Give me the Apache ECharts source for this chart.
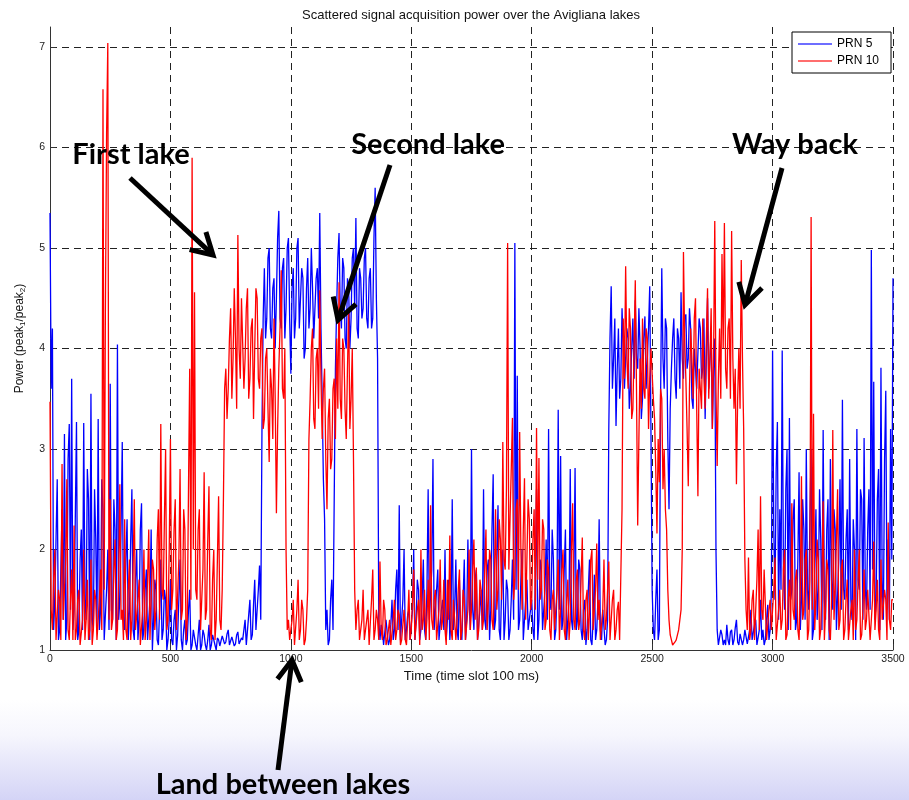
<!DOCTYPE html>
<html><head><meta charset="utf-8">
<script src="https://cdn.jsdelivr.net/npm/echarts@6/dist/echarts.min.js"></script>
<style>html,body{margin:0;padding:0;background:#fff}#c{width:909px;height:800px}</style>
</head><body><div id="c"></div>
<script>
// Time slots are sampled every SLOT_STEP slots (100 ms per slot)
const SLOT_STEP = 5;
const titleText = 'Scattered signal acquisition power over the Avigliana lakes';
const xAxisName = 'Time (time slot 100 ms)';
const seriesNames = ['PRN 5', 'PRN 10'];
const xTickStep = 500;
const yTickStep = 1;

// PRN 5 (blue), t = 0, 5, 10, ... 3500
const prn5 = [
 5.35,3.6,4.2,1.2,1.5,2.1,2.7,1.1,1.2,1.8,2.4,1.3,3.15,1.1,1.3,2.9,3.25,1.4,3.7,1.2,
 1.4,2.3,3.27,1.1,1.2,1.9,2.2,1.2,3.26,1.5,1.3,2.8,2.5,1.1,3.55,1.3,1.2,2.6,2.1,1.2,
 3.3,1.2,1.4,2.7,2.4,1.1,1.1,1.6,2.0,1.2,3.65,1.4,1.3,2.5,2.2,1.1,4.04,1.3,1.5,2.2,
 3.07,1.3,1.2,1.9,2.3,1.1,1.4,2.1,2.6,1.2,1.1,1.7,2.0,1.1,1.3,2.2,2.46,1.1,1.2,1.6,
 1.8,1.1,1.1,1.5,2.2,1.0,1.3,1.7,1.6,1.1,1.05,1.4,1.9,1.1,1.2,1.6,1.5,1.0,1.1,1.3,
 1.7,1.1,1.05,1.3,1.4,1.0,1.15,1.5,1.9,1.1,1.0,1.2,1.3,1.05,1.1,1.4,1.6,1.0,1.05,1.2,
 1.2,1.05,1.0,1.15,1.3,1.0,1.05,1.2,1.15,1.05,1.0,1.1,1.25,1.0,1.05,1.15,1.1,1.05,1.0,1.12,
 1.1,1.04,1.05,1.14,1.15,1.06,1.08,1.16,1.2,1.05,1.05,1.13,1.12,1.04,1.06,1.15,1.18,1.06,1.05,1.12,
 1.1,1.2,1.3,1.05,1.05,1.35,1.5,1.1,1.15,1.45,1.7,1.2,1.2,1.6,1.84,1.3,3.17,4.3,4.8,4.1,
 4.3,4.9,5.0,4.2,4.1,4.6,4.7,4.0,4.5,5.1,5.37,4.3,4.2,4.8,4.9,4.1,4.4,5.0,5.1,4.3,
 3.75,4.6,4.8,4.1,4.3,5.0,5.1,4.2,4.2,4.8,4.7,3.9,4.0,4.6,4.9,4.2,4.4,5.0,4.6,4.1,
 4.1,4.7,4.8,4.3,5.35,4.2,3.5,2.7,2.3,1.2,1.4,1.05,1.1,1.5,1.7,1.2,2.5,3.8,4.4,4.9,
 5.15,4.4,4.2,4.9,4.8,4.1,4.0,4.7,4.6,4.0,4.3,4.9,5.0,4.4,5.3,4.2,4.1,4.8,4.7,4.3,
 4.4,4.9,5.0,4.3,4.2,4.7,4.8,4.2,4.3,5.1,5.6,4.5,3.9,1.3,1.1,1.25,1.2,1.05,1.05,1.3,
 1.3,1.05,1.1,1.25,1.5,1.1,1.2,1.6,1.8,1.2,2.44,1.1,1.1,1.5,2.0,1.1,1.2,1.35,1.4,1.1,
 1.1,1.4,2.0,1.1,1.3,1.7,1.6,1.1,1.2,1.5,1.9,1.2,1.1,1.6,2.6,1.3,1.3,1.8,2.9,1.2,
 1.2,1.6,1.8,1.1,1.1,1.4,1.5,1.2,2.0,1.1,1.3,1.7,1.1,1.3,2.5,1.2,1.4,1.9,1.2,1.1,
 1.7,1.2,1.1,1.5,1.9,1.1,1.3,2.1,1.5,1.2,3.0,1.4,1.2,1.7,1.8,1.1,1.1,1.4,1.6,1.2,
 2.6,1.3,1.2,1.8,1.9,1.1,1.4,2.2,2.75,1.2,1.3,1.9,2.44,1.2,1.1,1.6,2.0,1.1,1.3,1.7,
 1.6,1.1,1.2,1.5,1.9,1.3,5.05,1.6,3.73,1.2,1.3,1.7,2.0,1.1,1.1,1.5,1.7,1.2,1.2,1.4,
 1.5,1.2,1.1,1.7,2.6,1.1,1.3,1.9,1.8,1.2,1.2,1.6,2.1,1.3,3.2,1.5,1.4,2.2,1.9,1.1,
 1.2,1.6,3.39,1.4,2.93,1.2,1.3,1.8,2.2,1.1,1.1,1.5,2.8,1.3,1.2,1.7,2.81,1.2,1.3,1.9,
 1.8,1.2,1.1,1.4,1.5,1.05,1.2,1.6,1.9,1.1,1.05,1.3,1.75,1.1,1.2,1.5,2.3,1.2,1.1,1.4,
 1.4,1.05,1.1,1.3,3.2,4.1,4.62,3.6,3.9,4.3,3.23,3.8,4.2,3.5,3.7,4.4,4.4,3.6,3.9,4.2,
 4.1,3.4,3.6,4.0,4.3,3.7,4.48,3.9,3.8,4.4,4.0,3.3,3.5,4.1,4.32,3.6,3.9,4.2,4.62,3.2,
 1.6,1.2,1.1,1.5,1.8,1.1,1.2,3.5,4.8,3.9,3.6,4.3,4.2,3.1,2.4,3.4,3.8,4.1,4.3,3.7,
 3.5,4.2,4.1,3.6,4.56,3.9,3.7,4.3,4.34,3.8,3.9,4.4,4.2,3.5,3.4,4.0,4.0,3.6,3.6,4.3,
 4.2,3.7,3.8,4.3,3.3,3.9,4.5,3.6,3.9,4.2,3.2,3.8,4.1,2.0,1.2,1.05,1.05,1.2,1.15,1.05,
 1.1,1.05,1.25,1.1,1.05,1.18,1.2,1.05,1.1,1.22,1.3,1.08,1.05,1.16,1.15,1.05,1.1,1.2,1.2,1.06,
 1.05,1.2,1.4,1.1,1.1,1.25,1.3,1.05,1.05,1.2,1.5,1.1,1.2,1.05,1.1,1.3,1.45,1.1,1.2,1.6,
 3.98,2.2,1.5,2.8,3.27,1.3,2.4,1.6,3.98,1.8,1.4,2.6,3.0,1.2,3.31,1.5,1.6,2.3,2.5,1.2,
 1.3,1.9,2.77,1.2,1.5,2.5,2.2,1.3,3.0,1.6,1.4,2.3,3.0,1.1,1.2,1.8,2.4,1.3,1.6,2.6,
 2.1,1.2,3.19,1.5,1.3,2.2,2.5,1.1,2.9,1.7,1.4,2.4,2.2,1.2,1.2,1.9,2.7,1.4,3.49,1.6,
 1.5,2.1,2.4,1.2,2.9,1.5,1.3,2.3,2.0,1.1,3.2,1.7,1.6,2.6,2.5,1.3,3.11,1.6,1.4,2.2,
 2.6,1.4,4.98,1.8,3.67,1.3,1.5,2.5,2.8,1.2,3.81,1.7,1.3,2.9,3.58,1.4,2.1,1.3,3.2,1.9,
 4.7
];

// PRN 10 (red), t = 0, 5, 10, ... 3500
const prn10 = [
 3.47,1.4,1.2,1.7,2.0,1.1,1.1,1.6,1.5,1.1,2.85,1.3,1.3,1.9,2.7,1.2,1.1,1.5,1.8,1.1,
 2.24,1.1,1.2,1.5,1.6,1.05,1.05,1.3,2.0,1.1,1.3,1.7,1.1,1.2,1.9,1.05,1.2,1.6,1.5,1.1,
 1.1,1.5,1.8,1.2,6.58,1.6,4.4,6.15,7.04,1.3,2.5,1.2,1.3,1.8,2.1,1.1,1.2,1.7,2.65,1.3,
 1.4,1.1,2.3,1.2,1.1,1.6,1.9,1.1,1.3,1.8,2.5,1.2,1.2,1.5,1.7,1.05,1.05,1.4,2.0,1.1,
 1.3,1.7,2.2,1.1,1.1,1.9,1.8,1.2,1.4,2.1,2.4,1.3,3.25,1.6,1.5,2.3,3.0,1.2,1.3,2.0,
 3.1,1.4,1.6,2.2,2.5,1.2,1.2,1.9,2.8,1.3,1.4,2.4,2.2,1.1,1.3,2.6,3.8,1.5,5.9,2.0,
 4.56,1.6,1.5,2.2,2.4,1.2,1.2,1.8,2.77,1.3,1.4,2.1,2.63,1.2,1.1,1.7,2.0,1.1,1.3,1.9,
 2.53,1.3,1.2,1.6,2.5,3.6,3.8,3.3,3.6,4.1,4.4,3.5,3.9,4.6,4.1,3.4,5.13,4.0,3.7,4.5,
 4.5,3.6,3.9,4.4,4.6,3.5,3.7,4.2,4.3,3.3,4.0,4.6,4.5,3.7,3.6,4.1,4.2,3.2,3.3,3.9,
 4.0,3.4,2.87,3.8,3.6,3.1,4.3,3.5,2.36,3.2,3.8,4.2,4.78,3.6,3.5,4.0,2.0,1.2,1.3,1.1,
 1.1,1.3,1.5,1.05,1.05,1.4,1.7,1.1,1.2,1.5,1.4,1.05,1.1,1.3,1.6,3.1,3.5,4.0,4.2,3.3,
 3.2,3.9,4.0,3.4,4.58,3.7,3.1,3.6,3.8,2.9,2.4,3.3,3.5,2.8,2.9,3.6,3.7,3.1,4.1,3.4,
 4.66,3.5,3.3,4.1,4.0,3.4,3.1,3.8,4.4,3.2,3.5,4.0,2.9,1.6,1.2,1.4,1.5,1.1,1.1,1.3,
 1.6,1.1,1.1,1.3,1.4,1.05,1.05,1.5,1.8,1.1,1.2,1.4,1.3,1.1,1.88,1.2,1.1,1.5,1.4,1.05,
 1.1,1.2,1.3,1.05,1.05,1.3,1.5,1.1,1.2,1.4,1.35,1.05,1.1,1.25,1.4,1.1,1.05,1.3,1.6,1.1,
 1.2,1.5,1.8,1.1,1.1,1.4,1.5,1.05,2.0,1.2,1.3,1.6,1.1,1.3,1.7,1.1,2.44,1.3,1.2,1.5,
 1.6,1.1,1.1,1.4,1.9,1.2,1.3,1.7,1.2,1.05,1.7,1.3,2.14,1.2,1.1,1.5,1.5,1.1,1.3,1.6,
 1.8,1.1,1.2,1.6,1.5,1.1,1.1,1.4,2.0,1.2,1.4,1.8,2.1,1.3,1.82,1.1,1.2,1.7,1.6,1.2,
 1.3,1.8,2.2,1.2,1.5,2.0,1.9,1.3,1.2,1.7,2.4,1.4,1.6,2.3,2.1,1.5,3.07,1.9,1.8,2.6,
 5.05,1.8,2.3,2.8,3.31,1.5,1.7,2.4,2.5,1.6,3.17,2.0,1.4,2.2,2.71,1.3,1.9,2.5,2.3,1.4,
 1.5,2.1,2.4,1.4,3.21,1.7,2.91,1.5,1.6,2.3,2.2,1.2,1.3,1.9,1.8,1.2,1.1,1.5,1.6,1.2,
 1.2,1.6,1.9,1.1,1.4,1.8,2.0,1.2,1.1,1.5,1.7,1.1,1.3,2.0,2.46,1.3,1.2,1.7,1.8,1.2,
 1.3,1.7,2.12,1.2,1.1,1.5,1.6,1.1,1.4,1.9,2.0,1.2,1.2,1.6,2.06,1.3,1.5,1.1,1.1,1.4,
 1.9,1.2,1.3,1.6,1.88,1.1,1.1,1.5,1.6,1.1,1.2,1.4,1.48,1.1,1.1,2.4,4.3,3.7,4.82,3.9,
 3.6,4.4,4.2,3.3,3.4,4.0,4.68,3.6,2.24,3.1,3.9,3.4,4.3,3.6,3.5,4.2,4.1,3.2,3.7,4.0,
 4.0,3.5,3.3,2.8,2.16,3.1,2.67,3.6,3.5,2.6,3.0,2.4,2.2,1.6,1.3,1.15,1.1,1.05,1.05,1.08,
 1.1,1.15,1.2,1.3,1.4,2.0,4.96,4.1,3.7,3.2,2.63,3.6,4.2,3.9,3.5,4.3,4.5,3.4,2.53,3.8,
 3.8,3.4,4.3,3.7,3.4,4.1,4.6,3.5,3.9,4.4,3.2,3.9,5.27,3.6,2.83,3.7,4.2,3.5,4.94,4.0,
 5.25,3.8,3.6,4.2,4.3,3.5,5.17,3.9,3.4,3.8,2.65,3.5,4.0,3.4,4.88,3.9,3.2,1.9,1.4,1.2,
 1.92,1.1,1.2,1.5,1.6,1.1,1.1,1.7,2.2,1.2,2.53,1.4,1.3,1.8,1.8,1.1,1.1,1.4,1.5,1.2,
 1.2,1.6,1.92,1.1,1.1,1.4,1.6,1.2,1.3,1.8,2.0,1.1,1.15,1.5,1.7,1.2,2.46,1.4,1.3,1.7,
 1.8,1.2,1.1,1.6,2.73,1.3,1.4,1.9,2.0,1.1,1.2,1.7,5.31,1.4,3.35,1.2,1.5,2.1,1.9,1.1,
 1.2,1.7,2.48,1.1,1.4,1.9,1.8,1.2,1.1,1.5,3.19,1.3,1.6,2.1,2.6,1.2,1.3,1.8,1.9,1.1,
 1.2,1.5,1.7,1.1,1.1,1.4,1.5,1.1,2.0,1.2,1.3,1.7,2.0,1.1,1.15,1.4,1.8,1.2,1.3,1.6,
 1.6,1.1,1.1,1.5,2.08,1.2,1.4,1.7,1.2,1.1,1.9,1.3,1.3,1.6,1.5,1.1,2.27,1.3,1.2,1.5,
 1.5
];

const annotations = [
  {text: 'First lake', x: 131, y: 155, tail: [130, 178], tip: [213, 255]},
  {text: 'Second lake', x: 428, y: 145, tail: [390, 165], tip: [338, 320]},
  {text: 'Way back', x: 795, y: 145, tail: [782, 168], tip: [745, 305]},
  {text: 'Land between lakes', x: 283, y: 785, tail: [278, 770], tip: [292, 660]}
];

function toPairs(arr) { return arr.map((v, i) => [i * SLOT_STEP, v]); }

function arrowElems(tail, tip) {
  const dx = tip[0] - tail[0], dy = tip[1] - tail[1];
  const L = Math.hypot(dx, dy), bx = -dx / L, by = -dy / L;
  const hl = 24, a = Math.PI / 6;
  const w = s => [tip[0] + hl * (bx * Math.cos(s * a) - by * Math.sin(s * a)),
                  tip[1] + hl * (bx * Math.sin(s * a) + by * Math.cos(s * a))];
  return [
    {type: 'line', z: 100, shape: {x1: tail[0], y1: tail[1], x2: tip[0] + bx * 2, y2: tip[1] + by * 2},
     style: {stroke: '#000', lineWidth: 5}},
    {type: 'polyline', z: 100, shape: {points: [w(1), tip, w(-1)]},
     style: {stroke: '#000', lineWidth: 5, fill: null, lineJoin: 'miter'}}
  ];
}

const graphics = [
  {type: 'rect', z: -100, silent: true, shape: {x: 0, y: 700, width: 909, height: 100},
   style: {fill: new echarts.graphic.LinearGradient(0, 0, 0, 1, [
     {offset: 0, color: '#ffffff'}, {offset: 0.35, color: '#f6f6fd'}, {offset: 1, color: '#d4d4f6'}])}},
  {type: 'text', z: 50, style: {text: titleText, x: 471, y: 15, textAlign: 'center', textVerticalAlign: 'middle',
   font: '13px "Liberation Sans", Arial, sans-serif', fill: '#111'}}
];
annotations.forEach(an => {
  graphics.push({type: 'text', z: 101, style: {text: an.text, x: an.x, y: an.y, textAlign: 'center',
    textVerticalAlign: 'middle', font: 'bold 29px Lato, "Open Sans", sans-serif', fill: '#000'}});
  arrowElems(an.tail, an.tip).forEach(e => graphics.push(e));
});

const chart = echarts.init(document.getElementById('c'), null, {renderer: 'canvas'});
const dashed = {show: true, lineStyle: {color: '#222', width: 1, type: [7, 5]}};
chart.setOption({
  backgroundColor: '#fff',
  animation: false,
  textStyle: {fontFamily: '"Liberation Sans", Arial, sans-serif'},
  grid: {left: 50, right: 16, top: 27, bottom: 150, containLabel: false},
  legend: {
    orient: 'vertical', left: 792, top: 32, padding: [6, 12, 6, 6], itemGap: 5,
    borderColor: '#000', borderWidth: 1, backgroundColor: '#fff',
    icon: 'rect', itemWidth: 34, itemHeight: 2,
    textStyle: {fontSize: 12, color: '#000', fontFamily: '"Liberation Sans", Arial, sans-serif'},
    data: [{name: seriesNames[0], itemStyle: {color: '#6e6eff'}}, {name: seriesNames[1], itemStyle: {color: '#ff6e6e'}}]
  },
  xAxis: {
    type: 'value', min: 0, max: 3500, interval: xTickStep,
    name: xAxisName, nameLocation: 'middle', nameGap: 20,
    nameTextStyle: {fontSize: 13, color: '#111'},
    axisLine: {show: true, lineStyle: {color: '#333', width: 1}},
    axisTick: {show: true, inside: true, length: 6, lineStyle: {color: '#333'}},
    axisLabel: {fontSize: 10.5, color: '#222', margin: 4, formatter: v => String(v)},
    splitLine: dashed
  },
  yAxis: {
    type: 'value', min: 1, max: 7.2, interval: yTickStep,
    name: 'Power (peak{s|1}/peak{s|2})', nameLocation: 'middle', nameGap: 23, nameRotate: 90,
    nameTextStyle: {fontSize: 12, color: '#111', rich: {s: {fontSize: 8, verticalAlign: 'bottom', padding: [6, 0, 0, 0]}}},
    axisLine: {show: true, lineStyle: {color: '#333', width: 1}},
    axisTick: {show: true, inside: true, length: 6, lineStyle: {color: '#333'}},
    axisLabel: {fontSize: 10.5, color: '#222', margin: 5, showMaxLabel: false,
      formatter: v => (Math.abs(v - Math.round(v)) < 1e-9 ? String(Math.round(v)) : '')},
    splitLine: Object.assign({showMaxLine: false, showMinLine: false}, dashed)
  },
  series: [
    {name: seriesNames[0], type: 'line', data: toPairs(prn5), showSymbol: false, symbol: 'none',
     lineStyle: {color: '#0000ff', width: 1.3}, itemStyle: {color: '#0000ff'}, z: 2},
    {name: seriesNames[1], type: 'line', data: toPairs(prn10), showSymbol: false, symbol: 'none',
     lineStyle: {color: '#ff0000', width: 1.3}, itemStyle: {color: '#ff0000'}, z: 3}
  ],
  graphic: graphics
});
</script></body></html>
